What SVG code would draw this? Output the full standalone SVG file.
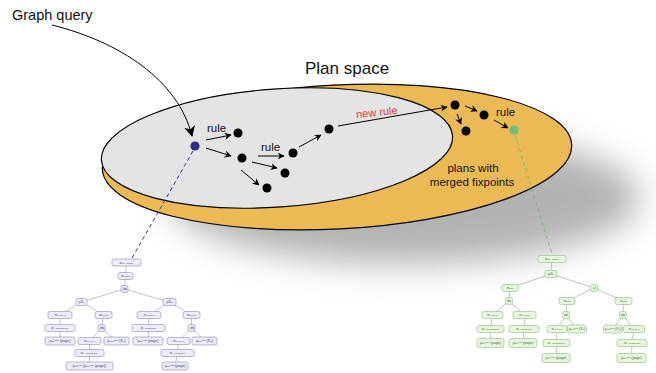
<svg xmlns="http://www.w3.org/2000/svg" width="656" height="373" viewBox="0 0 656 373">
<style>
.lbl{font-family:"Liberation Sans",Arial,sans-serif;fill:#111}
.arr{fill:none;stroke:#000;stroke-width:1}
.dot{fill:#000}
.te{stroke:#9a9a9a;stroke-width:0.6;fill:none}
.nl rect{fill:#ECECFA;stroke:#8A8AC8;stroke-width:0.6}
.nl text{fill:#3A3A7A}
.nr rect{fill:#E8F5DF;stroke:#8CC07C;stroke-width:0.6}
.nr text{fill:#3C6A30}
.nl text,.nr text{font-family:"Liberation Sans",Arial,sans-serif;font-size:3.6px;text-anchor:middle}
.s{font-size:2.4px}
</style>
<defs>
<marker id="ah" viewBox="0 0 10 10" refX="9" refY="5" markerWidth="7" markerHeight="7" orient="auto" markerUnits="userSpaceOnUse"><path d="M0,0 L10,5 L0,10 L3,5 z" fill="#000"/></marker>
<marker id="ahb" viewBox="0 0 10 10" refX="9" refY="5" markerWidth="11" markerHeight="11" orient="auto" markerUnits="userSpaceOnUse"><path d="M0,0 L10,5 L0,10 L3,5 z" fill="#000"/></marker>
<filter id="blur" x="-30%" y="-60%" width="160%" height="220%"><feGaussianBlur stdDeviation="17"/></filter>
</defs>

<g id="plan-space">
<ellipse cx="405" cy="198" rx="235" ry="66" fill="#8a8a8a" opacity="0.65" filter="url(#blur)"/>
<ellipse cx="337" cy="157" rx="235" ry="72" transform="rotate(-3 337 157)" fill="#EBBA55" stroke="#000" stroke-width="1.2"/>
<ellipse cx="277" cy="148" rx="176" ry="59" transform="rotate(-4 277 148)" fill="#E4E4E4" stroke="#000" stroke-width="1.2"/>
<text class="lbl" x="305" y="74" font-size="17">Plan space</text>
<text class="lbl" x="473" y="172" font-size="11.5" text-anchor="middle">plans with</text>
<text class="lbl" x="472" y="186" font-size="11.5" text-anchor="middle">merged fixpoints</text>
</g>

<g id="graph-query">
<text class="lbl" x="12" y="20" font-size="14.5">Graph query</text>
</g>

<g id="plans">
<circle id="p0" cx="195" cy="146" r="4.6" fill="#2E2A8E"/>
<circle id="p1" class="dot" cx="238" cy="133" r="4.5"/>
<circle id="p2" class="dot" cx="242" cy="158" r="4.5"/>
<circle id="p3" class="dot" cx="293" cy="153" r="4.5"/>
<circle id="p4" class="dot" cx="285" cy="173" r="4.5"/>
<circle id="p5" class="dot" cx="267" cy="188" r="4.5"/>
<circle id="p6" class="dot" cx="329" cy="129" r="4.5"/>
<circle id="p7" class="dot" cx="455" cy="105" r="4.5"/>
<circle id="p8" class="dot" cx="484" cy="115" r="4.5"/>
<circle id="p9" class="dot" cx="466" cy="131" r="4.5"/>
<circle id="p10" cx="514" cy="130" r="4.6" fill="#6DBE7B"/>
</g>

<g id="connectors">
<path class="arr" d="M52,25 C120,42 178,80 192,136" marker-end="url(#ahb)"/>
<line class="arr" x1="206" y1="140" x2="231" y2="135" marker-end="url(#ah)"/>
<line class="arr" x1="206" y1="148" x2="231" y2="156" marker-end="url(#ah)"/>
<line class="arr" x1="258" y1="156" x2="284" y2="156" marker-end="url(#ah)"/>
<line class="arr" x1="252" y1="162" x2="277" y2="168" marker-end="url(#ah)"/>
<line class="arr" x1="241" y1="170" x2="259" y2="185" marker-end="url(#ah)"/>
<line class="arr" x1="299" y1="147" x2="321" y2="135" marker-end="url(#ah)"/>
<line class="arr" x1="338" y1="126" x2="447" y2="107" marker-end="url(#ah)"/>
<line class="arr" x1="465" y1="106" x2="477" y2="111" marker-end="url(#ah)"/>
<line class="arr" x1="457" y1="114" x2="461" y2="124" marker-end="url(#ah)"/>
<line class="arr" x1="494" y1="120" x2="508" y2="128" marker-end="url(#ah)"/>
<text class="lbl" x="207" y="132" font-size="11.5">rule</text>
<text class="lbl" x="261" y="151" font-size="11.5">rule</text>
<text class="lbl" x="496" y="116" font-size="11.5">rule</text>
<text class="lbl" x="356" y="116" font-size="11" style="fill:#E03C31" transform="rotate(-6 377 112)">new rule</text>
<line x1="193" y1="151" x2="132" y2="258" stroke="#3B36A8" stroke-width="1" stroke-dasharray="4,3"/>
<line x1="515" y1="135" x2="552" y2="254" stroke="#6DBE7B" stroke-width="1" stroke-dasharray="4,3"/>
</g>

<g id="left-tree-edges" class="te">
<polyline points="126.5,262.5 125.5,276 124.5,289"/>
<line x1="124.5" y1="289" x2="81.5" y2="302"/><line x1="124.5" y1="289" x2="169.5" y2="302"/>
<line x1="81.5" y1="302" x2="60" y2="315"/><line x1="81.5" y1="302" x2="103.5" y2="315"/>
<polyline points="60,315 60,328 60,341"/>
<line x1="103.5" y1="315" x2="101.5" y2="328"/>
<line x1="101.5" y1="328" x2="89.5" y2="341"/><line x1="101.5" y1="328" x2="116.5" y2="341"/>
<polyline points="89.5,341 89.5,353 89.5,366"/>
<line x1="169.5" y1="302" x2="149" y2="315"/><line x1="169.5" y1="302" x2="191.5" y2="315"/>
<polyline points="149,315 148.5,328 148,341"/>
<line x1="191.5" y1="315" x2="191.5" y2="328"/>
<line x1="191.5" y1="328" x2="178.5" y2="341"/><line x1="191.5" y1="328" x2="204.5" y2="341"/>
<polyline points="178.5,341 177.5,353 175,366"/>
</g>

<g id="right-tree-edges" class="te">
<line x1="552" y1="259" x2="551" y2="274"/>
<line x1="551" y1="274" x2="510" y2="288"/><line x1="551" y1="274" x2="594" y2="288"/>
<line x1="510" y1="288" x2="509" y2="301"/>
<line x1="509" y1="301" x2="492.5" y2="315"/><line x1="509" y1="301" x2="524.5" y2="315"/>
<polyline points="492.5,315 490.5,329 490.5,343"/>
<polyline points="524.5,315 524,329 523,343"/>
<line x1="594" y1="288" x2="567" y2="301"/><line x1="594" y1="288" x2="623.5" y2="301"/>
<line x1="567" y1="301" x2="566" y2="315"/>
<line x1="566" y1="315" x2="557" y2="329"/><line x1="566" y1="315" x2="577" y2="329"/>
<polyline points="557,329 556.5,343 556,358"/>
<line x1="623.5" y1="301" x2="623" y2="315"/>
<line x1="623" y1="315" x2="613" y2="329"/><line x1="623" y1="315" x2="634" y2="329"/>
<polyline points="634,329 632,343 631.5,358"/>
</g>

<g id="left-tree">
<g id="L1" class="nl"><rect x="112" y="259" width="29" height="7" rx="2"/><text x="126.5" y="263.8">σ<tspan class="s">trg='Japan'</tspan></text></g>
<g id="L2" class="nl"><rect x="118" y="272.5" width="15" height="7" rx="2"/><text x="125.5" y="277.3">π<tspan class="s">src,trg</tspan></text></g>
<g id="L3" class="nl"><rect x="121" y="285.5" width="7" height="7" rx="2"/><text x="124.5" y="290.3">⋈</text></g>
<g id="L4a" class="nl"><rect x="76" y="298.5" width="11" height="7" rx="2"/><text x="81.5" y="303.3">μX<tspan class="s">1</tspan></text></g>
<g id="L4b" class="nl"><rect x="163" y="298.5" width="13" height="7" rx="2"/><text x="169.5" y="303.3">μX<tspan class="s">2</tspan></text></g>
<g id="L5a" class="nl"><rect x="48" y="311.5" width="24" height="7" rx="2"/><text x="60" y="316.3">π<tspan class="s">rel,src,1</tspan></text></g>
<g id="L5b" class="nl"><rect x="95" y="311.5" width="17" height="7" rx="2"/><text x="103.5" y="316.3">π<tspan class="s">src,trg</tspan></text></g>
<g id="L5c" class="nl"><rect x="137" y="311.5" width="24" height="7" rx="2"/><text x="149" y="316.3">π<tspan class="s">rel,src,1</tspan></text></g>
<g id="L5d" class="nl"><rect x="183" y="311.5" width="17" height="7" rx="2"/><text x="191.5" y="316.3">π<tspan class="s">src,trg</tspan></text></g>
<g id="L6a" class="nl"><rect x="45" y="324.5" width="30" height="7" rx="2"/><text x="60" y="329.3">σ<tspan class="s">l='isLocatedIn'</tspan></text></g>
<g id="L6b" class="nl"><rect x="98" y="324.5" width="7" height="7" rx="2"/><text x="101.5" y="329.3">⋈</text></g>
<g id="L6c" class="nl"><rect x="132" y="324.5" width="33" height="7" rx="2"/><text x="148.5" y="329.3">σ<tspan class="s">l='dealsWith'</tspan></text></g>
<g id="L6d" class="nl"><rect x="188" y="324.5" width="7" height="7" rx="2"/><text x="191.5" y="329.3">⋈</text></g>
<g id="L7a" class="nl"><rect x="45" y="337" width="30" height="8" rx="2"/><text x="60" y="342.3">ρ<tspan class="s">trg</tspan><tspan class="s" dy="-1.6">src1</tspan><tspan dy="1.6"> (page)</tspan></text></g>
<g id="L7b" class="nl"><rect x="78" y="337.5" width="23" height="7" rx="2"/><text x="89.5" y="342.3">π<tspan class="s">rel,src,1</tspan></text></g>
<g id="L7c" class="nl"><rect x="104" y="337" width="25" height="8" rx="2"/><text x="116.5" y="342.3">ρ<tspan class="s">trg1</tspan><tspan class="s" dy="-1.6">src2</tspan><tspan dy="1.6"> (X</tspan><tspan class="s">1</tspan>)</text></g>
<g id="L7d" class="nl"><rect x="133" y="337" width="30" height="8" rx="2"/><text x="148" y="342.3">ρ<tspan class="s">src</tspan><tspan class="s" dy="-1.6">trg1</tspan><tspan dy="1.6"> (page)</tspan></text></g>
<g id="L7e" class="nl"><rect x="167" y="337.5" width="23" height="7" rx="2"/><text x="178.5" y="342.3">π<tspan class="s">rel,src,1</tspan></text></g>
<g id="L7f" class="nl"><rect x="192" y="337" width="25" height="8" rx="2"/><text x="204.5" y="342.3">ρ<tspan class="s">trg</tspan><tspan class="s" dy="-1.6">src2</tspan><tspan dy="1.6"> (X</tspan><tspan class="s">2</tspan>)</text></g>
<g id="L8a" class="nl"><rect x="75" y="349.5" width="29" height="7" rx="2"/><text x="89.5" y="354.3">σ<tspan class="s">l='isLocatedIn'</tspan></text></g>
<g id="L8b" class="nl"><rect x="161" y="349.5" width="33" height="7" rx="2"/><text x="177.5" y="354.3">σ<tspan class="s">l='dealsWith'</tspan></text></g>
<g id="L9a" class="nl"><rect x="66" y="362" width="47" height="8" rx="2"/><text x="89.5" y="367.3">ρ<tspan class="s">trg</tspan><tspan class="s" dy="-1.6">src2</tspan><tspan dy="1.6"> (ρ</tspan><tspan class="s">src</tspan><tspan class="s" dy="-1.6">trg1</tspan><tspan dy="1.6"> (page))</tspan></text></g>
<g id="L9b" class="nl"><rect x="162" y="362" width="26" height="8" rx="2"/><text x="175" y="367.3">ρ<tspan class="s">src</tspan><tspan class="s" dy="-1.6">trg2</tspan><tspan dy="1.6"> (page)</tspan></text></g>
</g>

<g id="right-tree">
<g id="R1" class="nr"><rect x="538" y="255.5" width="28" height="7" rx="2"/><text x="552" y="260.3">σ<tspan class="s">trg='Japan'</tspan></text></g>
<g id="R2" class="nr"><rect x="545" y="270.5" width="12" height="7" rx="2"/><text x="551" y="275.3">μX<tspan class="s">1</tspan></text></g>
<g id="R3a" class="nr"><rect x="502" y="284.5" width="16" height="7" rx="2"/><text x="510" y="289.3">π<tspan class="s">src1</tspan></text></g>
<g id="R3b" class="nr"><rect x="590.5" y="284.5" width="7" height="7" rx="2"/><text x="594" y="289.3">∪</text></g>
<g id="R4a" class="nr"><rect x="505.5" y="297.5" width="7" height="7" rx="2"/><text x="509" y="302.3">⋈</text></g>
<g id="R4b" class="nr"><rect x="559" y="297.5" width="16" height="7" rx="2"/><text x="567" y="302.3">π<tspan class="s">src1</tspan></text></g>
<g id="R4c" class="nr"><rect x="615" y="297.5" width="17" height="7" rx="2"/><text x="623.5" y="302.3">π<tspan class="s">src2</tspan></text></g>
<g id="R5a" class="nr"><rect x="482" y="311.5" width="21" height="7" rx="2"/><text x="492.5" y="316.3">π<tspan class="s">rel,src,1</tspan></text></g>
<g id="R5b" class="nr"><rect x="513" y="311.5" width="23" height="7" rx="2"/><text x="524.5" y="316.3">π<tspan class="s">rel,src,1</tspan></text></g>
<g id="R5c" class="nr"><rect x="562.5" y="311.5" width="7" height="7" rx="2"/><text x="566" y="316.3">⋈</text></g>
<g id="R5d" class="nr"><rect x="619.5" y="311.5" width="7" height="7" rx="2"/><text x="623" y="316.3">⋈</text></g>
<g id="R6a" class="nr"><rect x="477" y="325.5" width="27" height="7" rx="2"/><text x="490.5" y="330.3">σ<tspan class="s">l='isLocatedIn'</tspan></text></g>
<g id="R6b" class="nr"><rect x="509" y="325.5" width="30" height="7" rx="2"/><text x="524" y="330.3">σ<tspan class="s">l='dealsWith'</tspan></text></g>
<g id="R6c" class="nr"><rect x="547" y="325.5" width="20" height="7" rx="2"/><text x="557" y="330.3">π<tspan class="s">rel,src,1</tspan></text></g>
<g id="R6d" class="nr"><rect x="567.5" y="325" width="19" height="8" rx="2"/><text x="577" y="330.3">ρ<tspan class="s">trg</tspan><tspan class="s" dy="-1.6">src1</tspan><tspan dy="1.6"> (X</tspan><tspan class="s">1</tspan>)</text></g>
<g id="R6e" class="nr"><rect x="603.5" y="325" width="19" height="8" rx="2"/><text x="613" y="330.3">ρ<tspan class="s">trg</tspan><tspan class="s" dy="-1.6">src2</tspan><tspan dy="1.6"> (X</tspan><tspan class="s">1</tspan>)</text></g>
<g id="R6f" class="nr"><rect x="623.5" y="325.5" width="21" height="7" rx="2"/><text x="634" y="330.3">π<tspan class="s">rel,src,1</tspan></text></g>
<g id="R7a" class="nr"><rect x="477" y="338.5" width="27" height="9" rx="2"/><text x="490.5" y="344.3">ρ<tspan class="s">trg</tspan><tspan class="s" dy="-1.6">src1</tspan><tspan dy="1.6"> (page)</tspan></text></g>
<g id="R7b" class="nr"><rect x="509" y="338.5" width="28" height="9" rx="2"/><text x="523" y="344.3">ρ<tspan class="s">src</tspan><tspan class="s" dy="-1.6">trg1</tspan><tspan dy="1.6"> (page)</tspan></text></g>
<g id="R7c" class="nr"><rect x="543" y="339.5" width="27" height="7" rx="2"/><text x="556.5" y="344.3">σ<tspan class="s">l='isLocatedIn'</tspan></text></g>
<g id="R7d" class="nr"><rect x="617" y="339.5" width="30" height="7" rx="2"/><text x="632" y="344.3">σ<tspan class="s">l='dealsWith'</tspan></text></g>
<g id="R8a" class="nr"><rect x="542" y="353.5" width="28" height="9" rx="2"/><text x="556" y="359.3">ρ<tspan class="s">trg</tspan><tspan class="s" dy="-1.6">src1</tspan><tspan dy="1.6"> (page)</tspan></text></g>
<g id="R8b" class="nr"><rect x="617" y="353.5" width="29" height="9" rx="2"/><text x="631.5" y="359.3">ρ<tspan class="s">src</tspan><tspan class="s" dy="-1.6">trg2</tspan><tspan dy="1.6"> (page)</tspan></text></g>
</g>
</svg>
